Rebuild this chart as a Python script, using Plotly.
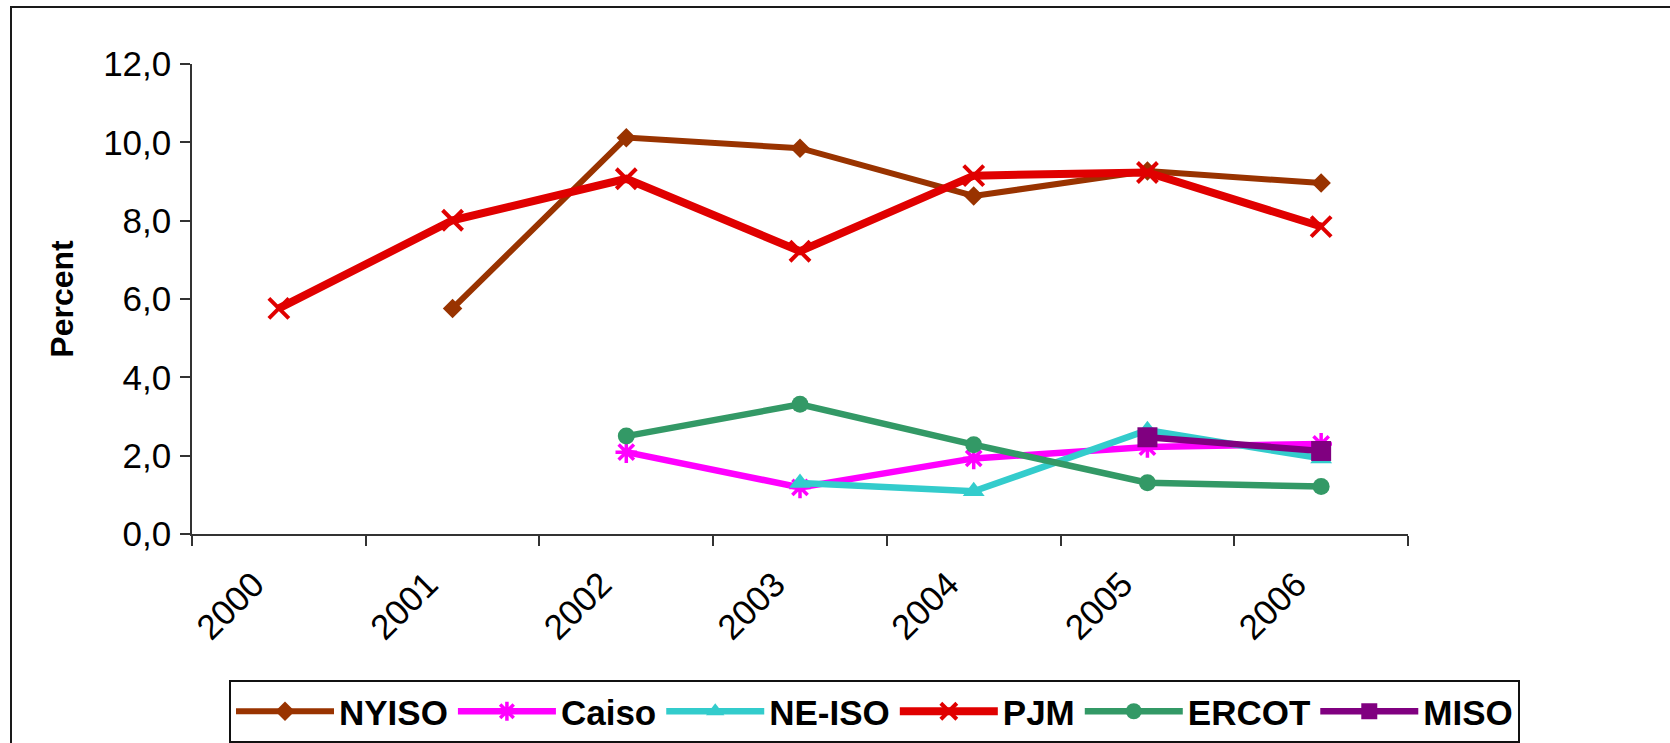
import plotly.graph_objects as go

years = ["2000", "2001", "2002", "2003", "2004", "2005", "2006"]
nyiso = [None, 5.76, 10.12, 9.85, 8.63, 9.27, 8.96]
caiso = [None, None, 2.09, 1.19, 1.93, 2.22, 2.30]
neiso = [None, None, None, 1.30, 1.09, 2.65, 1.93]
pjm = [5.76, 8.01, 9.07, 7.22, 9.15, 9.23, 7.85]
ercot = [None, None, 2.50, 3.31, 2.28, 1.31, 1.21]
miso = [None, None, None, None, None, 2.47, 2.12]
y_ticks = [0, 2, 4, 6, 8, 10, 12]

FONT = "Liberation Sans, Arial, sans-serif"

series = [
    ("NYISO", nyiso, "#993300", 6, dict(symbol="diamond", size=15, color="#993300")),
    ("Caiso", caiso, "#FF00FF", 6.5, dict(symbol="asterisk-open", size=18, color="#FF00FF",
                                          line=dict(color="#FF00FF", width=3.5))),
    ("NE-ISO", neiso, "#33CCCC", 6.5, dict(symbol="triangle-up", size=19, color="#33CCCC")),
    ("PJM", pjm, "#E00000", 8, dict(symbol="x-thin-open", size=20, color="#E00000",
                                     line=dict(color="#E00000", width=4))),
    ("ERCOT", ercot, "#339966", 6.5, dict(symbol="circle", size=17, color="#339966")),
    ("MISO", miso, "#800080", 6.5, dict(symbol="square", size=20, color="#800080")),
]

fig = go.Figure()
for name, vals, color, lw, marker in series:
    fig.add_trace(go.Scatter(
        x=years, y=vals, name=name, mode="lines+markers",
        line=dict(color=color, width=lw), marker=marker,
        connectgaps=False,
    ))

fig.update_layout(
    width=1670, height=743,
    margin=dict(l=192, r=262, t=64, b=209, autoexpand=False),
    paper_bgcolor="white", plot_bgcolor="white",
    separators=", ",
    font=dict(family=FONT, color="black"),
    showlegend=True,
    legend=dict(
        orientation="h", x=(1520 - 192) / 1216, xanchor="right",
        y=(534 - 680) / 470, yanchor="top",
        bordercolor="#111111", borderwidth=2, bgcolor="white",
        font=dict(family=FONT, size=35, color="black", weight="bold"),
        itemwidth=98, tracegroupgap=0,
    ),
    xaxis=dict(
        type="category", categoryorder="array", categoryarray=years,
        range=[-0.5, 6.5], tickson="boundaries", automargin=False,
        ticks="outside", ticklen=10, tickcolor="#333333", tickwidth=1.5,
        showline=True, linecolor="#333333", linewidth=1.5,
        showgrid=False, zeroline=False, tickangle=-45,
        ticklabelshift=-25, ticklabelstandoff=14,
        tickfont=dict(family=FONT, size=35, color="black"),
    ),
    yaxis=dict(
        range=[0, 12], tickvals=y_ticks, tickformat=".1f", automargin=False,
        ticks="outside", ticklen=10, tickcolor="#333333", tickwidth=1.5,
        showline=True, linecolor="#333333", linewidth=1.5,
        showgrid=False, zeroline=False, ticklabelstandoff=2,
        tickfont=dict(family=FONT, size=35, color="black"),
        title=dict(text="Percent", standoff=20,
                   font=dict(family=FONT, size=32, color="black", weight="bold")),
    ),
    shapes=[dict(type="rect", xref="paper", yref="paper",
                 x0=(11 - 192) / 1216, x1=1.3, y0=-1.0, y1=(534 - 7) / 470,
                 line=dict(color="#1a1a1a", width=2), fillcolor="rgba(0,0,0,0)",
                 layer="below")],
)

fig.write_html("out.html", config={"displayModeBar": False},
               post_script="document.body.style.margin='0';")
